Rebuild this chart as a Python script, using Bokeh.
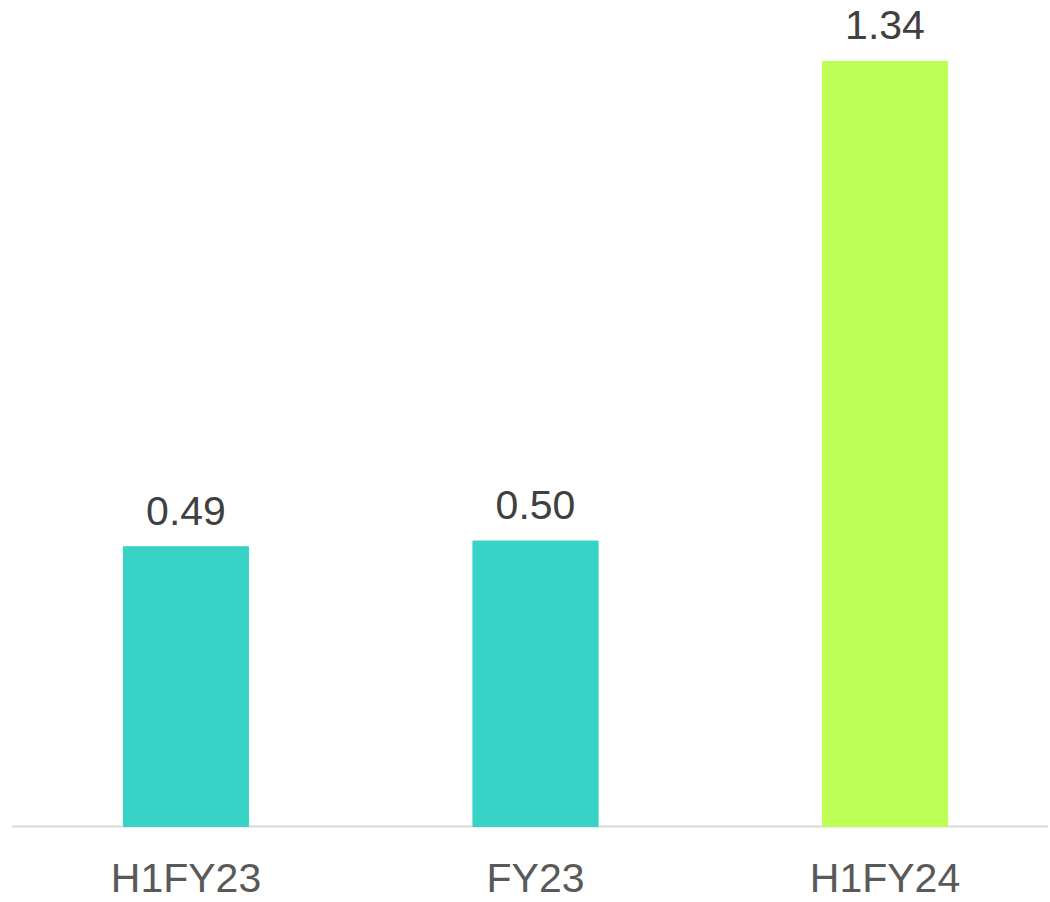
from bokeh.plotting import figure
from bokeh.models import ColumnDataSource, Range1d, Span
from bokeh.core.properties import value
from bokeh.embed import file_html
from bokeh.resources import INLINE

categories = ["H1FY23", "FY23", "H1FY24"]
values = [0.49, 0.50, 1.34]
labels = ["0.49", "0.50", "1.34"]
colors = ["#36D3C6", "#36D3C6", "#BEFF55"]

xs = list(range(len(categories)))
src = ColumnDataSource(dict(x=xs, top=values, label=labels, color=colors,
                            cat=categories, zero=[0] * len(xs)))

p = figure(width=1048, height=900, output_backend="svg", toolbar_location=None,
           x_range=Range1d(-0.4993, 2.4678), y_range=Range1d(-0.1296, 1.4468),
           x_axis_location=None, y_axis_location=None,
           min_border_left=11, min_border_right=0, min_border_top=0, min_border_bottom=0)

p.xgrid.visible = False
p.ygrid.visible = False
p.outline_line_color = None

p.add_layout(Span(location=0, dimension="width", line_color="#D9D9D9",
                  line_width=2, level="underlay"))

p.vbar(x="x", top="top", bottom=0, width=0.358, color="color", source=src)

p.text(x="x", y="top", text="label", source=src, text_align="center",
       text_baseline="alphabetic", y_offset=-36, text_font_size="41px",
       text_font=value("Liberation Sans"), text_color="#404040")

p.text(x="x", y="zero", text="cat", source=src, text_align="center",
       text_baseline="alphabetic", y_offset=51, text_font_size="41px",
       text_font=value("Liberation Sans"), text_color="#595959")

open("out.html", "w").write(file_html(p, INLINE))
